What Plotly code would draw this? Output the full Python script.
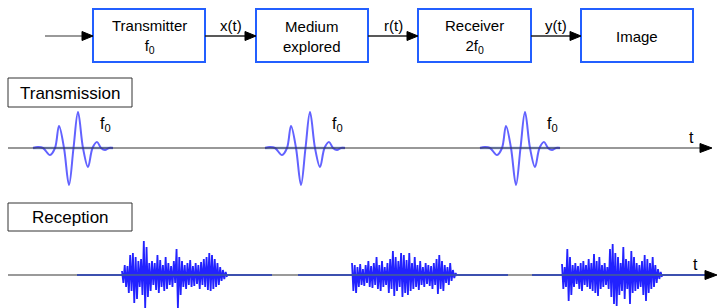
import plotly.graph_objects as go

# ---------------- data (pixel-like time units) -------------
# block diagram
block_labels = ["Transmitter<br>f<sub>0</sub>", "Medium<br>explored", "Receiver<br>2f<sub>0</sub>", "Image"]
block_left = [93, 256, 418, 581]
block_right = [205, 368, 531, 693]
signal_labels = ["x(t)", "r(t)", "y(t)"]

# transmitted pulse (offset from pulse start, amplitude)
pulse_dx = [0, 5, 10, 17, 22, 26, 31, 36, 40.5, 45, 50, 55, 59.5, 64, 68, 72, 76, 80]
pulse_amp = [0, 1, 0, -7, 0, 22, 0, -37, 0, 36, 0, -19, 0, 6, 0, -2, 0, 0]
pulse_starts = [33, 265, 480]

# received echoes: (start, end) and sample amplitudes
burst_spans = [(122, 227), (352, 457), (562, 662)]
burst1 = [4, -8, 10, -12, 9, -18, 20, -16, 22, -28, 18, -24, 14, -12, 16, -20, 34, -33, 28, -22, 12, -16,
          14, -10, 12, -15, 20, -18, 15, -12, 10, -16, 18, -14, 12, -10, 9, -12, 14, -8,
          26, -33, 18, -20, 14, -12, 10, -14, 12, -10, 15, -12, 9, -11, 12, -9, 10, -14, 13, -10,
          16, -12, 18, -15, 22, -16, 20, -14, 16, -12, 12, -10, 8, -6, 5, -4, 3, -2]
burst2 = [12, -16, 10, -18, 8, -12, 11, -10, 6, -11, 10, -8, 14, -12, 9, -13, 12, -10, 18, -14,
          10, -16, 14, -12, 8, -10, 12, -18, 16, -14, 24, -21, 18, -16, 14, -12, 22, -22, 20, -18,
          15, -20, 22, -16, 12, -14, 18, -12, 10, -15, 14, -10, 8, -12, 12, -9, 10, -11, 9, -14,
          12, -10, 16, -19, 20, -14, 14, -16, 10, -8, 8, -10, 12, -6, 5, -3, 2, -1]
burst3 = [11, -14, 8, -12, 26, -26, 18, -20, 10, -12, 12, -9, 9, -14, 12, -16, 14, -10, 10, -12,
          16, -14, 12, -16, 21, -18, 14, -21, 18, -14, 10, -12, 12, -10, 8, -14, 26, -22, 31, -29,
          22, -31, 18, -20, 12, -16, 28, -24, 16, -14, 14, -29, 24, -18, 18, -16, 12, -14, 10, -12,
          14, -20, 20, -26, 16, -18, 12, -14, 18, -12, 10, -8, 6, -4, 3, -2]
bursts = [burst1, burst2, burst3]
rx_blue_segments = [(77, 272), (298, 508), (532, 705)]

# ---------------- layout constants -------------------------------------------------
W, H = 717, 308
TX_Y = 148
RX_Y = 275
FONT = "Liberation Sans, Arial, sans-serif"
BLUE_BOX = "rgb(35,95,255)"

fig = go.Figure()
shapes = []
annotations = []

# block boxes
for i, lab in enumerate(block_labels):
    shapes.append(dict(type="rect", x0=block_left[i], x1=block_right[i], y0=9, y1=62,
                       line=dict(color=BLUE_BOX, width=2), fillcolor="white"))
    annotations.append(dict(x=(block_left[i] + block_right[i]) / 2, y=36, text=lab, showarrow=False,
                            font=dict(family=FONT, size=15, color="black"), xanchor="center",
                            yanchor="middle"))


def arrowhead(tip_x, y, length=11, half=4.5):
    return dict(type="path",
                path=f"M {tip_x - length},{y - half} L {tip_x},{y} L {tip_x - length},{y + half} Z",
                fillcolor="black", line=dict(color="black", width=1))


# input arrow
shapes.append(dict(type="line", x0=45, x1=85, y0=36, y1=36, line=dict(color="#777", width=1.3)))
shapes.append(arrowhead(block_left[0], 36))
# connecting arrows
for i, lab in enumerate(signal_labels):
    x0 = block_right[i]
    x1 = block_left[i + 1]
    shapes.append(dict(type="line", x0=x0, x1=x1 - 8, y0=36, y1=36, line=dict(color="#222", width=1.3)))
    shapes.append(arrowhead(x1, 36))
    annotations.append(dict(x=(x0 + x1) / 2, y=25, text=lab, showarrow=False,
                            font=dict(family=FONT, size=15, color="black"),
                            xanchor="center", yanchor="middle"))

# section label boxes
for y0, y1, lab in [(78, 107, "Transmission"), (203, 231, "Reception")]:
    shapes.append(dict(type="rect", x0=8, x1=132, y0=y0, y1=y1, line=dict(color="#333", width=1)))
    annotations.append(dict(x=70, y=(y0 + y1) / 2 + 0.5, text=lab, showarrow=False,
                            font=dict(family=FONT, size=17, color="black"),
                            xanchor="center", yanchor="middle"))

# transmission axis
shapes.append(dict(type="line", x0=8, x1=702, y0=TX_Y, y1=TX_Y, line=dict(color="#333", width=1.2)))
shapes.append(arrowhead(712, TX_Y, length=12, half=4.5))
annotations.append(dict(x=691, y=137, text="t", showarrow=False,
                        font=dict(family=FONT, size=16, color="black")))

# reception axis
shapes.append(dict(type="line", x0=8, x1=707, y0=RX_Y, y1=RX_Y, line=dict(color="#9a9a9a", width=2)))
for a, b in rx_blue_segments:
    shapes.append(dict(type="line", x0=a, x1=b, y0=RX_Y, y1=RX_Y,
                       line=dict(color="rgb(60,80,175)", width=2)))
shapes.append(arrowhead(717, RX_Y, length=12, half=4.5))
annotations.append(dict(x=695, y=264, text="t", showarrow=False,
                        font=dict(family=FONT, size=16, color="black")))

# transmitted pulses
for s in pulse_starts:
    fig.add_trace(go.Scatter(x=[s, s + pulse_dx[-1]], y=[TX_Y, TX_Y], mode="lines",
                             line=dict(color="rgb(150,175,235)", width=2.5), hoverinfo="skip"))
    fig.add_trace(go.Scatter(x=[s + d for d in pulse_dx], y=[TX_Y - a for a in pulse_amp],
                             mode="lines", line=dict(color="rgba(70,70,255,0.85)", width=2,
                                                     shape="spline", smoothing=1.0),
                             hoverinfo="skip"))
    annotations.append(dict(x=s + 72, y=124, text="f<sub>0</sub>", showarrow=False,
                            font=dict(family=FONT, size=16, color="black"),
                            xanchor="center", yanchor="middle"))

# received bursts
for (a, b), vals in zip(burst_spans, bursts):
    n = len(vals)
    step = (b - a) / (n - 1)
    fig.add_trace(go.Scatter(x=[a + i * step for i in range(n)], y=[RX_Y - v for v in vals],
                             mode="lines", line=dict(color="rgba(10,10,255,0.9)", width=1.8),
                             hoverinfo="skip"))

fig.update_layout(
    width=W, height=H, margin=dict(l=0, r=0, t=0, b=0),
    paper_bgcolor="white", plot_bgcolor="white", showlegend=False,
    xaxis=dict(range=[0, W], visible=False, fixedrange=True),
    yaxis=dict(range=[H, 0], visible=False, fixedrange=True),
    shapes=shapes, annotations=annotations,
)

fig.write_html("out.html", config={"displayModeBar": False},
               post_script="document.body.style.margin='0';document.body.style.overflow='hidden';")
